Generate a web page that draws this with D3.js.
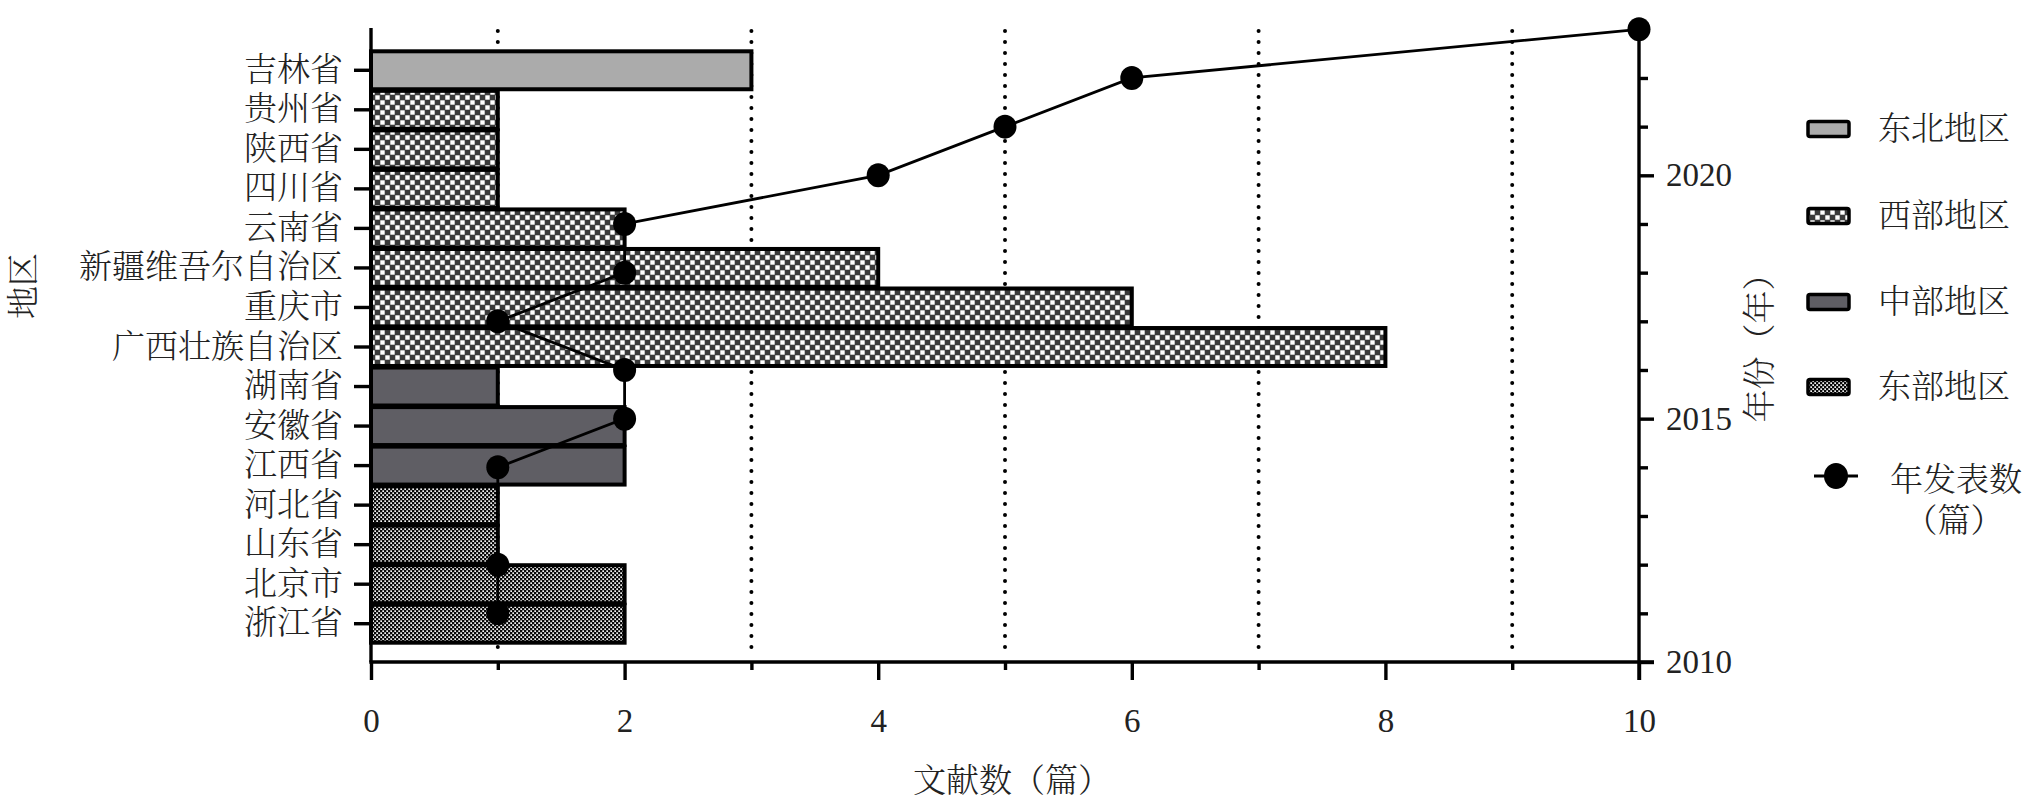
<!DOCTYPE html>
<html>
<head>
<meta charset="utf-8">
<script src="https://cdn.jsdelivr.net/npm/d3@7/dist/d3.min.js"></script>
<style>
  html, body { margin: 0; padding: 0; background: #fff; }
  svg { display: block; }
  text { font-family: "Liberation Serif", "Noto Serif CJK SC", "Noto Sans CJK SC", serif; fill: #222; }
</style>
</head>
<body>
<script>
// ---------- data ----------
const provinces = ["吉林省","贵州省","陕西省","四川省","云南省","新疆维吾尔自治区","重庆市","广西壮族自治区","湖南省","安徽省","江西省","河北省","山东省","北京市","浙江省"];
const counts    = [3, 1, 1, 1, 2, 4, 6, 8, 1, 2, 2, 1, 1, 2, 2];
const regionOf  = ["东北地区","西部地区","西部地区","西部地区","西部地区","西部地区","西部地区","西部地区","中部地区","中部地区","中部地区","东部地区","东部地区","东部地区","东部地区"];
const regions   = ["东北地区","西部地区","中部地区","东部地区"];
const years     = [2011, 2012, 2014, 2015, 2016, 2017, 2018, 2019, 2020, 2021, 2022, 2023];
const yearCount = [1, 1, 1, 2, 2, 1, 2, 2, 4, 5, 6, 10];
const xMajorTicks = [0, 2, 4, 6, 8, 10];
const xMinorTicks = [1, 3, 5, 7, 9];
const yearMajorTicks = [2010, 2015, 2020];
const yearMinorTicks = [2011, 2012, 2013, 2014, 2016, 2017, 2018, 2019, 2021, 2022];
const xTitle = "文献数（篇）";
const yTitle = "地区";
const yRightTitle = "年份（年）";
const lineLabel = ["年发表数", "（篇）"];

// ---------- setup ----------
const W = 2033, H = 808;
const svg = d3.select("body").append("svg").attr("width", W).attr("height", H);
const defs = svg.append("defs");

// west: checker (dark ground, white squares)
const pw = defs.append("pattern").attr("id","west").attr("patternUnits","userSpaceOnUse")
  .attr("width",10).attr("height",10);
pw.append("rect").attr("width",10).attr("height",10).attr("fill","#3a3a3a");
pw.append("rect").attr("x",0.3).attr("y",0.3).attr("width",4.4).attr("height",4.4).attr("fill","#fff");
pw.append("rect").attr("x",5.3).attr("y",5.3).attr("width",4.4).attr("height",4.4).attr("fill","#fff");
// east: fine dots
const pe = defs.append("pattern").attr("id","east").attr("patternUnits","userSpaceOnUse")
  .attr("width",4).attr("height",4);
pe.append("rect").attr("width",4).attr("height",4).attr("fill","#0a0a0a");
pe.append("rect").attr("x",0.3).attr("y",0.3).attr("width",1.7).attr("height",1.7).attr("fill","#f4f4f4");
pe.append("rect").attr("x",2.3).attr("y",2.3).attr("width",1.7).attr("height",1.7).attr("fill","#f4f4f4");

const fillOf = d3.scaleOrdinal(regions, ["#ababab", "url(#west)", "#5f5e64", "url(#east)"]);

const x = d3.scaleLinear().domain([0, 10]).range([371, 1639]);
const y = d3.scaleBand().domain(provinces).range([51.3, 642.7]).paddingInner(0.04);
const yr = d3.scaleLinear().domain([2010, 2023]).range([662, 29.3]);

const axisTop = 28, axisBottom = 662;
const FS = "33px";

// ---------- dotted grid lines ----------
svg.append("g").selectAll("line").data(xMinorTicks).join("line")
  .attr("x1", d => x(d)).attr("x2", d => x(d))
  .attr("y1", 31).attr("y2", axisBottom - 4)
  .attr("stroke", "#000").attr("stroke-width", 4)
  .attr("stroke-linecap", "round").attr("stroke-dasharray", "0,11");

// ---------- bars ----------
svg.append("g").selectAll("rect").data(provinces).join("rect")
  .attr("x", x(0))
  .attr("y", d => y(d))
  .attr("width", (d, i) => x(counts[i]) - x(0))
  .attr("height", y.bandwidth())
  .attr("fill", (d, i) => fillOf(regionOf[i]))
  .attr("stroke", "#000").attr("stroke-width", 4);

// ---------- axes ----------
const axisStroke = 3.4;
function styleAxis(g) {
  g.select(".domain").remove();
  g.selectAll(".tick line").attr("stroke", "#000").attr("stroke-width", axisStroke);
  g.selectAll("text").attr("fill", "#222");
}
// left axis
const gl = svg.append("g").attr("transform", `translate(${x(0)},0)`)
  .call(d3.axisLeft(y).tickSize(17).tickPadding(11)).call(styleAxis);
gl.selectAll("text").style("font-size", FS).attr("font-weight", 300);
svg.append("line").attr("x1", x(0)).attr("x2", x(0)).attr("y1", axisTop).attr("y2", axisBottom)
  .attr("stroke", "#000").attr("stroke-width", axisStroke);

// bottom axis
const gb = svg.append("g").attr("transform", `translate(0,${axisBottom})`)
  .call(d3.axisBottom(x).tickValues(xMajorTicks).tickSize(18).tickPadding(29).tickFormat(d3.format("d")))
  .call(styleAxis);
gb.selectAll("text").style("font-size", FS);
svg.append("g").attr("transform", `translate(0,${axisBottom})`)
  .call(d3.axisBottom(x).tickValues(xMinorTicks).tickSize(8).tickFormat(""))
  .call(styleAxis);
svg.append("line").attr("x1", x(0) - 1.7).attr("x2", x(10) + 15).attr("y1", axisBottom).attr("y2", axisBottom)
  .attr("stroke", "#000").attr("stroke-width", axisStroke);

// right axis
const gr = svg.append("g").attr("transform", `translate(${x(10)},0)`)
  .call(d3.axisRight(yr).tickValues(yearMajorTicks).tickSize(15).tickPadding(12).tickFormat(d3.format("d")))
  .call(styleAxis);
gr.selectAll("text").style("font-size", FS);
svg.append("g").attr("transform", `translate(${x(10)},0)`)
  .call(d3.axisRight(yr).tickValues(yearMinorTicks).tickSize(9).tickFormat(""))
  .call(styleAxis);
svg.append("line").attr("x1", x(10)).attr("x2", x(10)).attr("y1", yr(2023)).attr("y2", axisBottom + 18)
  .attr("stroke", "#000").attr("stroke-width", axisStroke);

// ---------- line series ----------
const pts = years.map((yy, i) => [x(yearCount[i]), yr(yy)]);
svg.append("path").datum(pts)
  .attr("d", d3.line())
  .attr("fill", "none").attr("stroke", "#000").attr("stroke-width", 2.8);
svg.append("g").selectAll("ellipse").data(pts).join("ellipse")
  .attr("cx", d => d[0]).attr("cy", d => d[1])
  .attr("rx", 11.5).attr("ry", 12).attr("fill", "#000");

// ---------- titles ----------
svg.append("text").attr("x", 1012).attr("y", 781).attr("text-anchor", "middle")
  .attr("dominant-baseline", "central").style("font-size", FS).attr("font-weight", 300).text(xTitle);
svg.append("text").attr("transform", "translate(24,286) rotate(-90)").attr("text-anchor", "middle")
  .attr("dominant-baseline", "central").style("font-size", FS).attr("font-weight", 300).text(yTitle);
svg.append("text").attr("transform", "translate(1760,340) rotate(-90)").attr("text-anchor", "middle")
  .attr("dominant-baseline", "central").style("font-size", FS).attr("font-weight", 300).text(yRightTitle);

// ---------- legend ----------
const legY = [129, 216, 302, 387];
const lg = svg.append("g");
regions.forEach((r, i) => {
  lg.append("rect").attr("x", 1808).attr("y", legY[i] - 7.5).attr("width", 41).attr("height", 15)
    .attr("rx", 2).attr("fill", fillOf(r)).attr("stroke", "#000").attr("stroke-width", 3.5);
  lg.append("text").attr("x", 1878).attr("y", legY[i]).attr("dominant-baseline", "central")
    .style("font-size", FS).attr("font-weight", 300).text(r);
});
lg.append("line").attr("x1", 1814).attr("x2", 1858).attr("y1", 476).attr("y2", 476)
  .attr("stroke", "#000").attr("stroke-width", 3);
lg.append("ellipse").attr("cx", 1836).attr("cy", 476).attr("rx", 12).attr("ry", 13).attr("fill", "#000");
lg.append("text").attr("x", 1956).attr("y", 480).attr("text-anchor", "middle").attr("dominant-baseline", "central")
  .style("font-size", FS).attr("font-weight", 300).text(lineLabel[0]);
lg.append("text").attr("x", 1954).attr("y", 521).attr("text-anchor", "middle").attr("dominant-baseline", "central")
  .style("font-size", FS).attr("font-weight", 300).text(lineLabel[1]);
</script>
</body>
</html>
